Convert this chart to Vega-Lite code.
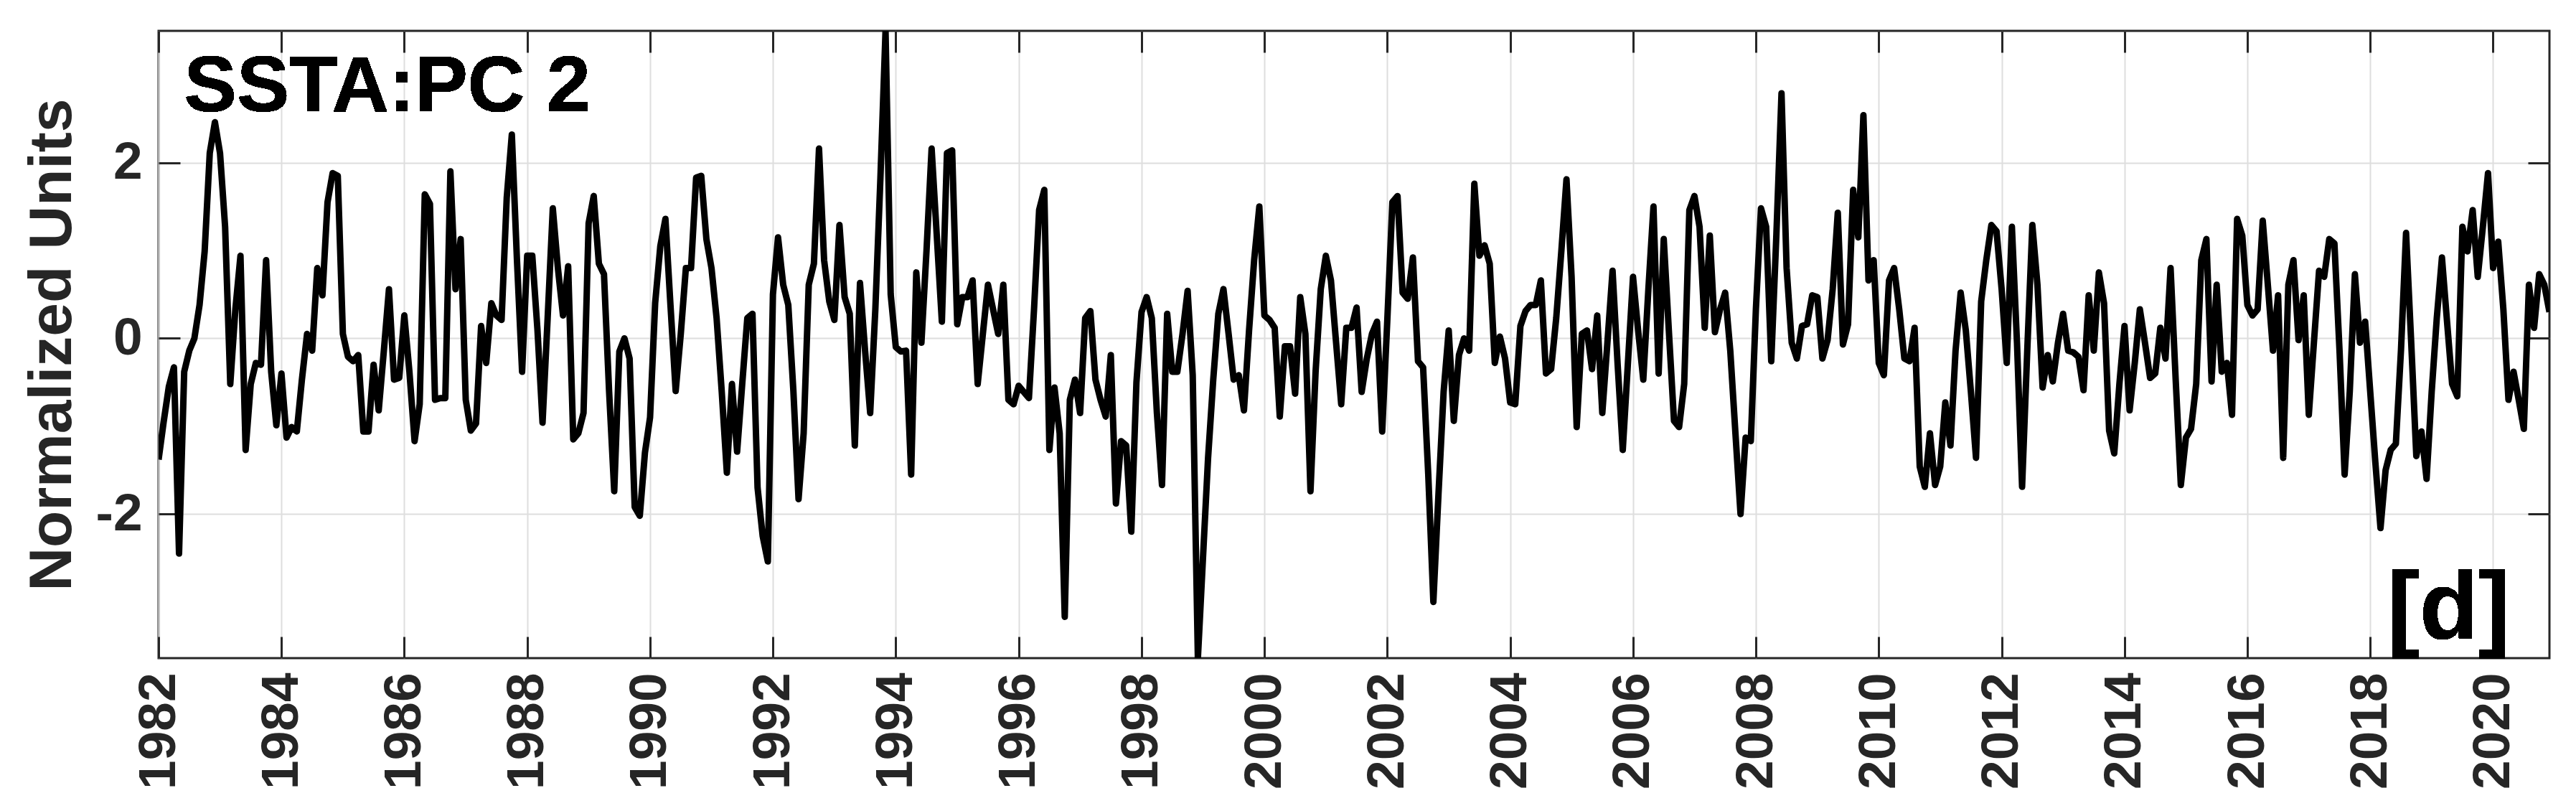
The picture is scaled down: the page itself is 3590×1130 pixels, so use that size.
{
"$schema": "https://vega.github.io/schema/vega-lite/v6.json",
"width": 3332, "height": 874,
"autosize": {"type": "none"},
"padding": {"left": 221, "top": 43, "right": 37, "bottom": 213},
"background": "white",
"config": {"view": {"stroke": "#262626", "strokeWidth": 3}, "font": "Liberation Sans"},
"data": {"values": [
{"t":1982,"v":-1.38},{"t":1982.083,"v":-0.95},{"t":1982.167,"v":-0.55},{"t":1982.25,"v":-0.33},{"t":1982.333,"v":-2.45},{"t":1982.417,"v":-0.38},{"t":1982.5,"v":-0.14},{"t":1982.583,"v":0.0},{"t":1982.667,"v":0.38},{"t":1982.75,"v":0.99},{"t":1982.833,"v":2.11},{"t":1982.917,"v":2.46},
{"t":1983,"v":2.11},{"t":1983.083,"v":1.27},{"t":1983.167,"v":-0.52},{"t":1983.25,"v":0.33},{"t":1983.333,"v":0.94},{"t":1983.417,"v":-1.27},{"t":1983.5,"v":-0.52},{"t":1983.583,"v":-0.28},{"t":1983.667,"v":-0.3},{"t":1983.75,"v":0.89},{"t":1983.833,"v":-0.38},{"t":1983.917,"v":-0.99},
{"t":1984,"v":-0.4},{"t":1984.083,"v":-1.13},{"t":1984.167,"v":-1.01},{"t":1984.25,"v":-1.06},{"t":1984.333,"v":-0.47},{"t":1984.417,"v":0.05},{"t":1984.5,"v":-0.14},{"t":1984.583,"v":0.8},{"t":1984.667,"v":0.49},{"t":1984.75,"v":1.55},{"t":1984.833,"v":1.88},{"t":1984.917,"v":1.85},
{"t":1985,"v":0.05},{"t":1985.083,"v":-0.21},{"t":1985.167,"v":-0.26},{"t":1985.25,"v":-0.19},{"t":1985.333,"v":-1.06},{"t":1985.417,"v":-1.06},{"t":1985.5,"v":-0.3},{"t":1985.583,"v":-0.82},{"t":1985.667,"v":-0.14},{"t":1985.75,"v":0.56},{"t":1985.833,"v":-0.47},{"t":1985.917,"v":-0.45},
{"t":1986,"v":0.26},{"t":1986.083,"v":-0.38},{"t":1986.167,"v":-1.17},{"t":1986.25,"v":-0.75},{"t":1986.333,"v":1.64},{"t":1986.417,"v":1.53},{"t":1986.5,"v":-0.7},{"t":1986.583,"v":-0.68},{"t":1986.667,"v":-0.68},{"t":1986.75,"v":1.9},{"t":1986.833,"v":0.56},{"t":1986.917,"v":1.13},
{"t":1987,"v":-0.7},{"t":1987.083,"v":-1.05},{"t":1987.167,"v":-0.97},{"t":1987.25,"v":0.14},{"t":1987.333,"v":-0.28},{"t":1987.417,"v":0.4},{"t":1987.5,"v":0.26},{"t":1987.583,"v":0.21},{"t":1987.667,"v":1.6},{"t":1987.75,"v":2.32},{"t":1987.833,"v":0.9},{"t":1987.917,"v":-0.38},
{"t":1988,"v":0.94},{"t":1988.083,"v":0.94},{"t":1988.167,"v":0.1},{"t":1988.25,"v":-0.96},{"t":1988.333,"v":0.23},{"t":1988.417,"v":1.48},{"t":1988.5,"v":0.8},{"t":1988.583,"v":0.26},{"t":1988.667,"v":0.82},{"t":1988.75,"v":-1.15},{"t":1988.833,"v":-1.08},{"t":1988.917,"v":-0.85},
{"t":1989,"v":1.31},{"t":1989.083,"v":1.62},{"t":1989.167,"v":0.85},{"t":1989.25,"v":0.73},{"t":1989.333,"v":-0.6},{"t":1989.417,"v":-1.74},{"t":1989.5,"v":-0.15},{"t":1989.583,"v":0.0},{"t":1989.667,"v":-0.23},{"t":1989.75,"v":-1.92},{"t":1989.833,"v":-2.02},{"t":1989.917,"v":-1.3},
{"t":1990,"v":-0.9},{"t":1990.083,"v":0.4},{"t":1990.167,"v":1.05},{"t":1990.25,"v":1.36},{"t":1990.333,"v":0.37},{"t":1990.417,"v":-0.6},{"t":1990.5,"v":0.05},{"t":1990.583,"v":0.8},{"t":1990.667,"v":0.8},{"t":1990.75,"v":1.83},{"t":1990.833,"v":1.85},{"t":1990.917,"v":1.13},
{"t":1991,"v":0.8},{"t":1991.083,"v":0.23},{"t":1991.167,"v":-0.61},{"t":1991.25,"v":-1.53},{"t":1991.333,"v":-0.52},{"t":1991.417,"v":-1.29},{"t":1991.5,"v":-0.52},{"t":1991.583,"v":0.23},{"t":1991.667,"v":0.28},{"t":1991.75,"v":-1.7},{"t":1991.833,"v":-2.25},{"t":1991.917,"v":-2.54},
{"t":1992,"v":0.5},{"t":1992.083,"v":1.15},{"t":1992.167,"v":0.61},{"t":1992.25,"v":0.38},{"t":1992.333,"v":-0.6},{"t":1992.417,"v":-1.83},{"t":1992.5,"v":-1.08},{"t":1992.583,"v":0.61},{"t":1992.667,"v":0.85},{"t":1992.75,"v":2.16},{"t":1992.833,"v":0.89},{"t":1992.917,"v":0.42},
{"t":1993,"v":0.21},{"t":1993.083,"v":1.29},{"t":1993.167,"v":0.47},{"t":1993.25,"v":0.28},{"t":1993.333,"v":-1.22},{"t":1993.417,"v":0.63},{"t":1993.5,"v":-0.14},{"t":1993.583,"v":-0.85},{"t":1993.667,"v":0.33},{"t":1993.75,"v":1.83},{"t":1993.833,"v":3.5},{"t":1993.917,"v":0.5},
{"t":1994,"v":-0.1},{"t":1994.083,"v":-0.15},{"t":1994.167,"v":-0.14},{"t":1994.25,"v":-1.55},{"t":1994.333,"v":0.75},{"t":1994.417,"v":-0.05},{"t":1994.5,"v":1.0},{"t":1994.583,"v":2.16},{"t":1994.667,"v":1.17},{"t":1994.75,"v":0.19},{"t":1994.833,"v":2.11},{"t":1994.917,"v":2.14},
{"t":1995,"v":0.16},{"t":1995.083,"v":0.47},{"t":1995.167,"v":0.47},{"t":1995.25,"v":0.66},{"t":1995.333,"v":-0.52},{"t":1995.417,"v":0.05},{"t":1995.5,"v":0.61},{"t":1995.583,"v":0.33},{"t":1995.667,"v":0.05},{"t":1995.75,"v":0.61},{"t":1995.833,"v":-0.7},{"t":1995.917,"v":-0.75},
{"t":1996,"v":-0.54},{"t":1996.083,"v":-0.61},{"t":1996.167,"v":-0.68},{"t":1996.25,"v":0.33},{"t":1996.333,"v":1.46},{"t":1996.417,"v":1.69},{"t":1996.5,"v":-1.27},{"t":1996.583,"v":-0.56},{"t":1996.667,"v":-1.08},{"t":1996.75,"v":-3.17},{"t":1996.833,"v":-0.7},{"t":1996.917,"v":-0.47},
{"t":1997,"v":-0.85},{"t":1997.083,"v":0.23},{"t":1997.167,"v":0.31},{"t":1997.25,"v":-0.47},{"t":1997.333,"v":-0.7},{"t":1997.417,"v":-0.89},{"t":1997.5,"v":-0.19},{"t":1997.583,"v":-1.88},{"t":1997.667,"v":-1.17},{"t":1997.75,"v":-1.22},{"t":1997.833,"v":-2.2},{"t":1997.917,"v":-0.5},
{"t":1998,"v":0.3},{"t":1998.083,"v":0.47},{"t":1998.167,"v":0.23},{"t":1998.25,"v":-0.85},{"t":1998.333,"v":-1.67},{"t":1998.417,"v":0.28},{"t":1998.5,"v":-0.38},{"t":1998.583,"v":-0.38},{"t":1998.667,"v":0.05},{"t":1998.75,"v":0.54},{"t":1998.833,"v":-0.42},{"t":1998.917,"v":-3.64},
{"t":1999,"v":-2.5},{"t":1999.083,"v":-1.36},{"t":1999.167,"v":-0.47},{"t":1999.25,"v":0.28},{"t":1999.333,"v":0.56},{"t":1999.417,"v":0.05},{"t":1999.5,"v":-0.47},{"t":1999.583,"v":-0.42},{"t":1999.667,"v":-0.82},{"t":1999.75,"v":0.09},{"t":1999.833,"v":0.89},{"t":1999.917,"v":1.5},
{"t":2000,"v":0.26},{"t":2000.083,"v":0.21},{"t":2000.167,"v":0.12},{"t":2000.25,"v":-0.89},{"t":2000.333,"v":-0.09},{"t":2000.417,"v":-0.09},{"t":2000.5,"v":-0.63},{"t":2000.583,"v":0.47},{"t":2000.667,"v":0.05},{"t":2000.75,"v":-1.74},{"t":2000.833,"v":-0.38},{"t":2000.917,"v":0.56},
{"t":2001,"v":0.94},{"t":2001.083,"v":0.66},{"t":2001.167,"v":-0.05},{"t":2001.25,"v":-0.75},{"t":2001.333,"v":0.12},{"t":2001.417,"v":0.12},{"t":2001.5,"v":0.35},{"t":2001.583,"v":-0.61},{"t":2001.667,"v":-0.23},{"t":2001.75,"v":0.05},{"t":2001.833,"v":0.19},{"t":2001.917,"v":-1.06},
{"t":2002,"v":0.2},{"t":2002.083,"v":1.55},{"t":2002.167,"v":1.62},{"t":2002.25,"v":0.52},{"t":2002.333,"v":0.45},{"t":2002.417,"v":0.92},{"t":2002.5,"v":-0.26},{"t":2002.583,"v":-0.33},{"t":2002.667,"v":-1.55},{"t":2002.75,"v":-3.0},{"t":2002.833,"v":-1.78},{"t":2002.917,"v":-0.61},
{"t":2003,"v":0.09},{"t":2003.083,"v":-0.94},{"t":2003.167,"v":-0.19},{"t":2003.25,"v":0.0},{"t":2003.333,"v":-0.14},{"t":2003.417,"v":1.76},{"t":2003.5,"v":0.94},{"t":2003.583,"v":1.06},{"t":2003.667,"v":0.85},{"t":2003.75,"v":-0.28},{"t":2003.833,"v":0.02},{"t":2003.917,"v":-0.23},
{"t":2004,"v":-0.73},{"t":2004.083,"v":-0.75},{"t":2004.167,"v":0.14},{"t":2004.25,"v":0.31},{"t":2004.333,"v":0.38},{"t":2004.417,"v":0.38},{"t":2004.5,"v":0.66},{"t":2004.583,"v":-0.4},{"t":2004.667,"v":-0.35},{"t":2004.75,"v":0.23},{"t":2004.833,"v":0.99},{"t":2004.917,"v":1.81},
{"t":2005,"v":0.7},{"t":2005.083,"v":-1.01},{"t":2005.167,"v":0.05},{"t":2005.25,"v":0.09},{"t":2005.333,"v":-0.35},{"t":2005.417,"v":0.26},{"t":2005.5,"v":-0.85},{"t":2005.583,"v":-0.05},{"t":2005.667,"v":0.77},{"t":2005.75,"v":-0.3},{"t":2005.833,"v":-1.27},{"t":2005.917,"v":-0.28},
{"t":2006,"v":0.7},{"t":2006.083,"v":0.09},{"t":2006.167,"v":-0.47},{"t":2006.25,"v":0.56},{"t":2006.333,"v":1.5},{"t":2006.417,"v":-0.4},{"t":2006.5,"v":1.13},{"t":2006.583,"v":0.09},{"t":2006.667,"v":-0.94},{"t":2006.75,"v":-1.01},{"t":2006.833,"v":-0.52},{"t":2006.917,"v":1.46},
{"t":2007,"v":1.62},{"t":2007.083,"v":1.27},{"t":2007.167,"v":0.12},{"t":2007.25,"v":1.17},{"t":2007.333,"v":0.07},{"t":2007.417,"v":0.33},{"t":2007.5,"v":0.52},{"t":2007.583,"v":-0.14},{"t":2007.667,"v":-1.08},{"t":2007.75,"v":-2.0},{"t":2007.833,"v":-1.13},{"t":2007.917,"v":-1.17},
{"t":2008,"v":0.33},{"t":2008.083,"v":1.48},{"t":2008.167,"v":1.27},{"t":2008.25,"v":-0.26},{"t":2008.333,"v":1.17},{"t":2008.417,"v":2.79},{"t":2008.5,"v":0.8},{"t":2008.583,"v":-0.05},{"t":2008.667,"v":-0.23},{"t":2008.75,"v":0.14},{"t":2008.833,"v":0.16},{"t":2008.917,"v":0.49},
{"t":2009,"v":0.47},{"t":2009.083,"v":-0.23},{"t":2009.167,"v":-0.02},{"t":2009.25,"v":0.56},{"t":2009.333,"v":1.43},{"t":2009.417,"v":-0.07},{"t":2009.5,"v":0.16},{"t":2009.583,"v":1.69},{"t":2009.667,"v":1.15},{"t":2009.75,"v":2.54},{"t":2009.833,"v":0.66},{"t":2009.917,"v":0.89},
{"t":2010,"v":-0.28},{"t":2010.083,"v":-0.42},{"t":2010.167,"v":0.66},{"t":2010.25,"v":0.8},{"t":2010.333,"v":0.33},{"t":2010.417,"v":-0.23},{"t":2010.5,"v":-0.26},{"t":2010.583,"v":0.12},{"t":2010.667,"v":-1.46},{"t":2010.75,"v":-1.69},{"t":2010.833,"v":-1.08},{"t":2010.917,"v":-1.67},
{"t":2011,"v":-1.46},{"t":2011.083,"v":-0.73},{"t":2011.167,"v":-1.22},{"t":2011.25,"v":-0.14},{"t":2011.333,"v":0.52},{"t":2011.417,"v":0.09},{"t":2011.5,"v":-0.61},{"t":2011.583,"v":-1.36},{"t":2011.667,"v":0.42},{"t":2011.75,"v":0.89},{"t":2011.833,"v":1.29},{"t":2011.917,"v":1.22},
{"t":2012,"v":0.56},{"t":2012.083,"v":-0.28},{"t":2012.167,"v":1.27},{"t":2012.25,"v":-0.05},{"t":2012.333,"v":-1.69},{"t":2012.417,"v":-0.14},{"t":2012.5,"v":1.29},{"t":2012.583,"v":0.61},{"t":2012.667,"v":-0.56},{"t":2012.75,"v":-0.19},{"t":2012.833,"v":-0.49},{"t":2012.917,"v":-0.05},
{"t":2013,"v":0.28},{"t":2013.083,"v":-0.14},{"t":2013.167,"v":-0.16},{"t":2013.25,"v":-0.21},{"t":2013.333,"v":-0.59},{"t":2013.417,"v":0.49},{"t":2013.5,"v":-0.14},{"t":2013.583,"v":0.75},{"t":2013.667,"v":0.4},{"t":2013.75,"v":-1.05},{"t":2013.833,"v":-1.31},{"t":2013.917,"v":-0.52},
{"t":2014,"v":0.14},{"t":2014.083,"v":-0.82},{"t":2014.167,"v":-0.28},{"t":2014.25,"v":0.33},{"t":2014.333,"v":-0.05},{"t":2014.417,"v":-0.45},{"t":2014.5,"v":-0.4},{"t":2014.583,"v":0.12},{"t":2014.667,"v":-0.23},{"t":2014.75,"v":0.8},{"t":2014.833,"v":-0.47},{"t":2014.917,"v":-1.67},
{"t":2015,"v":-1.13},{"t":2015.083,"v":-1.03},{"t":2015.167,"v":-0.52},{"t":2015.25,"v":0.89},{"t":2015.333,"v":1.13},{"t":2015.417,"v":-0.49},{"t":2015.5,"v":0.61},{"t":2015.583,"v":-0.38},{"t":2015.667,"v":-0.28},{"t":2015.75,"v":-0.87},{"t":2015.833,"v":1.36},{"t":2015.917,"v":1.17},
{"t":2016,"v":0.38},{"t":2016.083,"v":0.26},{"t":2016.167,"v":0.33},{"t":2016.25,"v":1.34},{"t":2016.333,"v":0.61},{"t":2016.417,"v":-0.14},{"t":2016.5,"v":0.49},{"t":2016.583,"v":-1.36},{"t":2016.667,"v":0.61},{"t":2016.75,"v":0.89},{"t":2016.833,"v":-0.02},{"t":2016.917,"v":0.49},
{"t":2017,"v":-0.87},{"t":2017.083,"v":-0.05},{"t":2017.167,"v":0.77},{"t":2017.25,"v":0.7},{"t":2017.333,"v":1.13},{"t":2017.417,"v":1.08},{"t":2017.5,"v":-0.14},{"t":2017.583,"v":-1.55},{"t":2017.667,"v":-0.6},{"t":2017.75,"v":0.73},{"t":2017.833,"v":-0.05},{"t":2017.917,"v":0.19},
{"t":2018,"v":-0.61},{"t":2018.083,"v":-1.41},{"t":2018.167,"v":-2.16},{"t":2018.25,"v":-1.5},{"t":2018.333,"v":-1.27},{"t":2018.417,"v":-1.2},{"t":2018.5,"v":-0.14},{"t":2018.583,"v":1.2},{"t":2018.667,"v":-0.05},{"t":2018.75,"v":-1.34},{"t":2018.833,"v":-1.06},{"t":2018.917,"v":-1.6},
{"t":2019,"v":-0.61},{"t":2019.083,"v":0.23},{"t":2019.167,"v":0.92},{"t":2019.25,"v":0.19},{"t":2019.333,"v":-0.52},{"t":2019.417,"v":-0.66},{"t":2019.5,"v":1.27},{"t":2019.583,"v":0.99},{"t":2019.667,"v":1.46},{"t":2019.75,"v":0.7},{"t":2019.833,"v":1.27},{"t":2019.917,"v":1.88},
{"t":2020,"v":0.8},{"t":2020.083,"v":1.1},{"t":2020.167,"v":0.33},{"t":2020.25,"v":-0.7},{"t":2020.333,"v":-0.38},{"t":2020.417,"v":-0.7},{"t":2020.5,"v":-1.03},{"t":2020.583,"v":0.61},{"t":2020.667,"v":0.12},{"t":2020.75,"v":0.73},{"t":2020.833,"v":0.61},{"t":2020.917,"v":0.3}
]},
"layer": [
{"mark": {"type": "line", "color": "black", "strokeWidth": 9, "strokeJoin": "round", "clip": true},
 "encoding": {
  "x": {"field": "t", "type": "quantitative",
    "scale": {"domain": [1982, 2020.917], "nice": false, "zero": false},
    "axis": {"values": [1982,1984,1986,1988,1990,1992,1994,1996,1998,2000,2002,2004,2006,2008,2010,2012,2014,2016,2018,2020],
      "format": "d", "title": null, "labelAngle": 270, "labelAlign": "right", "labelBaseline": "middle",
      "labelFontSize": 73, "labelFontWeight": "bold", "labelColor": "#262626", "labelPadding": 50,
      "tickSize": -30, "tickWidth": 3, "tickColor": "#262626", "domain": false,
      "grid": true, "gridColor": "#dedede", "gridWidth": 2, "labelFlush": false, "labelOverlap": false}},
  "y": {"field": "v", "type": "quantitative",
    "scale": {"domain": [-3.64, 3.5], "nice": false, "zero": false},
    "axis": {"values": [-2, 0, 2], "labelExpr": "'' + datum.value",
      "labelFontSize": 73, "labelFontWeight": "bold", "labelColor": "#262626", "labelPadding": 53,
      "tickSize": -30, "tickWidth": 3, "tickColor": "#262626", "domain": false,
      "grid": true, "gridColor": "#dedede", "gridWidth": 2,
      "title": "Normalized Units", "titleFontSize": 84, "titleFontWeight": "bold", "titleColor": "#262626",
      "titleAngle": 270, "titleX": -123, "titleY": 437, "titleAlign": "center", "titleBaseline": "alphabetic"}}
 }},
{"mark": {"type": "line", "opacity": 0},
 "encoding": {
  "x": {"field": "t", "type": "quantitative",
    "axis": {"orient": "top", "values": [1982,1984,1986,1988,1990,1992,1994,1996,1998,2000,2002,2004,2006,2008,2010,2012,2014,2016,2018,2020],
      "labels": false, "title": null, "tickSize": -30, "tickWidth": 3, "tickColor": "#262626", "domain": false, "grid": false}},
  "y": {"field": "v", "type": "quantitative",
    "axis": {"orient": "right", "values": [-2, 0, 2], "labels": false, "title": null,
      "tickSize": -30, "tickWidth": 3, "tickColor": "#262626", "domain": false, "grid": false}}
 }},
{"mark": {"type": "text", "text": "SSTA:PC 2", "font": "Liberation Sans", "fontSize": 110, "fontWeight": "bold", "color": "black", "align": "left", "baseline": "alphabetic"},
 "encoding": {
  "x": {"datum": 1982.416, "type": "quantitative", "axis": null},
  "y": {"datum": 2.585, "type": "quantitative", "axis": null}
 }},
{"mark": {"type": "text", "text": "[d]", "font": "Liberation Sans", "fontSize": 134, "fontWeight": "bold", "color": "black", "align": "right", "baseline": "alphabetic"},
 "encoding": {
  "x": {"datum": 2020.279, "type": "quantitative", "axis": null},
  "y": {"datum": -3.42, "type": "quantitative", "axis": null}
 }}
],
"resolve": {"axis": {"x": "independent", "y": "independent"}}
}
